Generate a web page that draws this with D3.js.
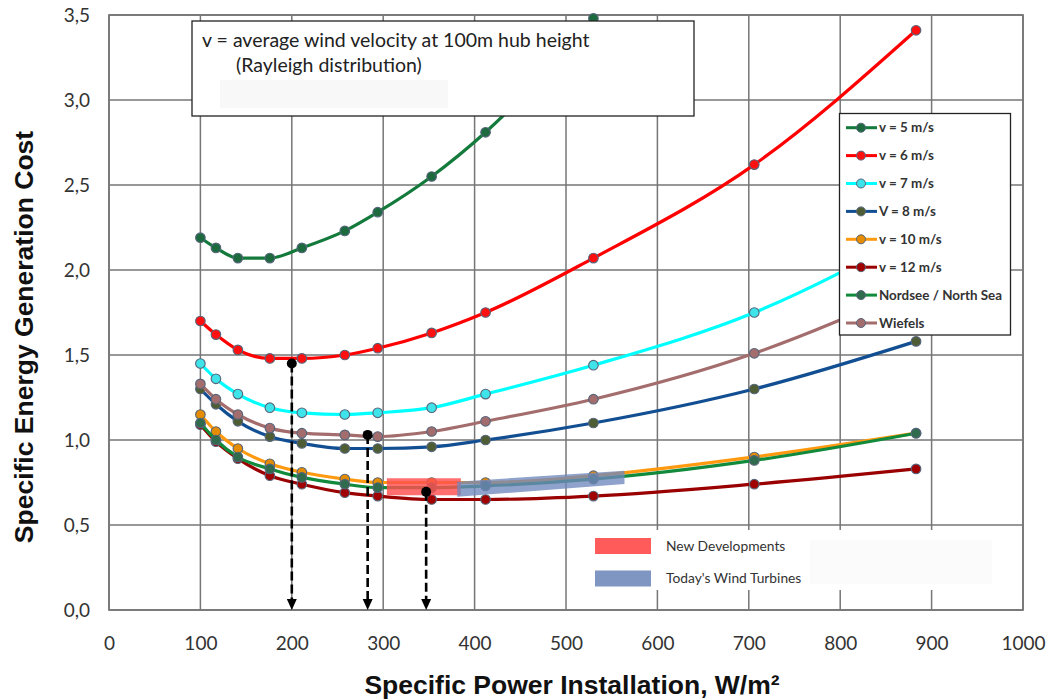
<!DOCTYPE html>
<html><head><meta charset="utf-8">
<script src="https://cdn.jsdelivr.net/npm/d3@7"></script>
<style>
body{margin:0;background:#fff;}
svg{display:block;}
</style></head>
<body>
<svg id="chart" width="1051" height="700"></svg>
<script>
// ---- data ----
const xValues = [100, 117, 141, 176, 211, 258, 294, 353, 412, 530, 706, 883];
const v5 = [2.19, 2.13, 2.07, 2.07, 2.13, 2.23, 2.34, 2.55, 2.81, 3.48];
const v6 = [1.70, 1.62, 1.53, 1.48, 1.48, 1.50, 1.54, 1.63, 1.75, 2.07, 2.62, 3.41];
const v7 = [1.45, 1.36, 1.27, 1.19, 1.16, 1.15, 1.16, 1.19, 1.27, 1.44, 1.75, 2.22];
const v8 = [1.30, 1.21, 1.11, 1.02, 0.98, 0.95, 0.95, 0.96, 1.00, 1.10, 1.30, 1.58];
const v10 = [1.15, 1.05, 0.95, 0.86, 0.81, 0.77, 0.75, 0.75, 0.75, 0.79, 0.90, 1.04];
const v12 = [1.09, 0.99, 0.89, 0.79, 0.74, 0.69, 0.67, 0.65, 0.65, 0.67, 0.74, 0.83];
const nordsee = [1.10, 1.00, 0.90, 0.83, 0.78, 0.74, 0.72, 0.72, 0.73, 0.77, 0.88, 1.04];
const wiefels = [1.33, 1.24, 1.15, 1.07, 1.04, 1.03, 1.02, 1.05, 1.11, 1.24, 1.51, 1.90];
const seriesNames = ["v = 5 m/s", "v = 6 m/s", "v = 7 m/s", "V = 8 m/s", "v = 10 m/s", "v = 12 m/s", "Nordsee / North Sea", "Wiefels"];
const xTicks = [0, 100, 200, 300, 400, 500, 600, 700, 800, 900, 1000];
const yTicks = [0, 0.5, 1.0, 1.5, 2.0, 2.5, 3.0, 3.5];
// optimum markers (dashed arrows)
const arrowX = [200, 283, 347];
const arrowY = [1.45, 1.03, 0.695];
// shaded bands
const newDevX = [304, 385];
const newDevLow = [0.675, 0.675];
const newDevHigh = [0.775, 0.775];
const todayX = [381, 564];
const todayLow = [0.666, 0.741];
const todayHigh = [0.755, 0.819];
const bandNames = ["New Developments", "Today's Wind Turbines"];
const annotation = ["v = average wind velocity at 100m hub height", "(Rayleigh distribution)"];

// ---- styles ----
const lineColors = ["#137a3c", "#ff0000", "#00ffff", "#124f92", "#ff9a10", "#9a0000", "#128a3c", "#a46d6d"];
const markerFill = ["#1c6a3e", "#ff1010", "#3fe3ea", "#4f5d35", "#e58c00", "#a00000", "#2f6b4c", "#a46d6d"];

const svg = d3.select("#chart");
const W = 1051, H = 700;
const m = {left:109, right:1023, top:15, bottom:610};
const x = d3.scaleLinear().domain([0, 1000]).range([m.left, m.right]);
const y = d3.scaleLinear().domain([0, 3.5]).range([m.bottom, m.top]);

svg.append("rect").attr("width", W).attr("height", H).attr("fill", "#fff");

// gridlines
const grid = svg.append("g");
grid.selectAll("line.v").data(xTicks).join("line")
  .attr("x1", d => x(d)).attr("x2", d => x(d))
  .attr("y1", m.top).attr("y2", m.bottom)
  .attr("stroke", "#767676").attr("stroke-width", 1.5);
grid.selectAll("line.h").data(yTicks).join("line")
  .attr("x1", m.left).attr("x2", m.right)
  .attr("y1", d => y(d)).attr("y2", d => y(d))
  .attr("stroke", "#767676").attr("stroke-width", 1.5);
svg.append("rect").attr("x", m.left).attr("y", m.top)
  .attr("width", m.right - m.left).attr("height", m.bottom - m.top)
  .attr("fill", "none").attr("stroke", "#767676").attr("stroke-width", 1.7);

// white area behind bottom legend
svg.append("rect").attr("x", 586).attr("y", 530).attr("width", 414).attr("height", 60).attr("fill", "#fff");
svg.append("rect").attr("x", 810).attr("y", 540).attr("width", 182).attr("height", 44).attr("fill", "#fbfbfb");

// axes
const fmt = d => d3.format(".1f")(d).replace(".", ",");
const yAxis = svg.append("g").attr("transform", `translate(${m.left},0)`)
  .call(d3.axisLeft(y).tickValues(yTicks).tickFormat(fmt).tickSize(0).tickPadding(19));
const xAxis = svg.append("g").attr("transform", `translate(0,${m.bottom})`)
  .call(d3.axisBottom(x).tickValues(xTicks).tickFormat(d3.format("d")).tickSize(0).tickPadding(27));
[yAxis, xAxis].forEach(a => {
  a.select(".domain").remove();
  a.selectAll("text").attr("font-family", "Lato, 'Open Sans', sans-serif")
    .attr("font-size", 19).attr("fill", "#333");
});

// series
const allSeries = [v5, v6, v7, v8, v10, v12, nordsee, wiefels];
const line = d3.line().curve(d3.curveMonotoneX)
  .x(d => x(d[0])).y(d => y(d[1]));
const plot = svg.append("g");
allSeries.forEach((vals, i) => {
  const pts = vals.map((v, j) => [xValues[j], v]);
  const g = plot.append("g");
  g.append("path").attr("d", line(pts)).attr("fill", "none")
    .attr("stroke", lineColors[i]).attr("stroke-width", 3.2)
    .attr("stroke-linejoin", "round").attr("stroke-linecap", "round");
  g.selectAll("circle").data(pts).join("circle")
    .attr("cx", d => x(d[0])).attr("cy", d => y(d[1])).attr("r", 4.8)
    .attr("fill", markerFill[i]).attr("stroke", "#55657a").attr("stroke-width", 1.1);
});

// bands
const bandArea = d3.area().x(d => x(d[0])).y0(d => y(d[1])).y1(d => y(d[2]));
svg.append("path")
  .attr("d", bandArea(newDevX.map((v, i) => [v, newDevLow[i], newDevHigh[i]])))
  .attr("fill", "#ff4f4f").attr("fill-opacity", 0.82);
svg.append("path")
  .attr("d", bandArea(todayX.map((v, i) => [v, todayLow[i], todayHigh[i]])))
  .attr("fill", "#7088bd").attr("fill-opacity", 0.78);

// dashed arrows
const arr = svg.append("g");
arrowX.forEach((ax, i) => {
  arr.append("line").attr("x1", x(ax)).attr("x2", x(ax))
    .attr("y1", y(arrowY[i])).attr("y2", y(0) - 10)
    .attr("stroke", "#000").attr("stroke-width", 2.6).attr("stroke-dasharray", "9,4");
  arr.append("path")
    .attr("d", `M${x(ax) - 5},${y(0) - 11} L${x(ax) + 5},${y(0) - 11} L${x(ax)},${y(0)} Z`)
    .attr("fill", "#000");
  arr.append("circle").attr("cx", x(ax)).attr("cy", y(arrowY[i])).attr("r", 5).attr("fill", "#000");
});

// annotation box
svg.append("rect").attr("x", 192).attr("y", 21).attr("width", 502).attr("height", 95)
  .attr("fill", "#fff").attr("stroke", "#222").attr("stroke-width", 1.3);
svg.append("rect").attr("x", 220).attr("y", 80).attr("width", 228).attr("height", 28).attr("fill", "#f8f8f8");
svg.append("text").attr("x", 202).attr("y", 47).text(annotation[0])
  .attr("font-family", "Lato, sans-serif").attr("font-size", 19.5).attr("fill", "#222");
svg.append("text").attr("x", 236).attr("y", 72).text(annotation[1])
  .attr("font-family", "Lato, sans-serif").attr("font-size", 19.5).attr("fill", "#222");

// legend
const lg = svg.append("g");
lg.append("rect").attr("x", 839.5).attr("y", 113.5).attr("width", 171).attr("height", 221.5)
  .attr("fill", "#fff").attr("stroke", "#222").attr("stroke-width", 1.3);
seriesNames.forEach((name, i) => {
  const ly = 127.7 + i * 27.9;
  lg.append("line").attr("x1", 846).attr("x2", 877).attr("y1", ly).attr("y2", ly)
    .attr("stroke", lineColors[i]).attr("stroke-width", 3);
  lg.append("circle").attr("cx", 861).attr("cy", ly).attr("r", 4.5)
    .attr("fill", markerFill[i]).attr("stroke", "#55657a").attr("stroke-width", 1);
  lg.append("text").attr("x", 879).attr("y", ly).attr("dy", "0.35em").text(name)
    .attr("font-family", "Lato, sans-serif").attr("font-size", 13.4).attr("font-weight", "bold").attr("fill", "#333");
});

// band legend
const bandColors = ["#ff5b5b", "#7f95c2"];
bandNames.forEach((name, i) => {
  const by = 538 + i * 32.5;
  svg.append("rect").attr("x", 595).attr("y", by).attr("width", 56).attr("height", 16).attr("fill", bandColors[i]);
  svg.append("text").attr("x", 666).attr("y", by + 8).attr("dy", "0.35em").text(name)
    .attr("font-family", "Lato, sans-serif").attr("font-size", 13.8).attr("fill", "#333");
});

// axis titles
svg.append("text").attr("x", 572).attr("y", 694).attr("text-anchor", "middle")
  .text("Specific Power Installation, W/m²")
  .attr("font-family", "'Liberation Sans', Arial, sans-serif").attr("font-weight", "bold").attr("font-size", 26.5).attr("fill", "#111");
svg.append("text").attr("transform", "translate(33,337) rotate(-90)").attr("text-anchor", "middle")
  .text("Specific Energy Generation Cost")
  .attr("font-family", "'Liberation Sans', Arial, sans-serif").attr("font-weight", "bold").attr("font-size", 26.5).attr("fill", "#111");
</script>
</body></html>
